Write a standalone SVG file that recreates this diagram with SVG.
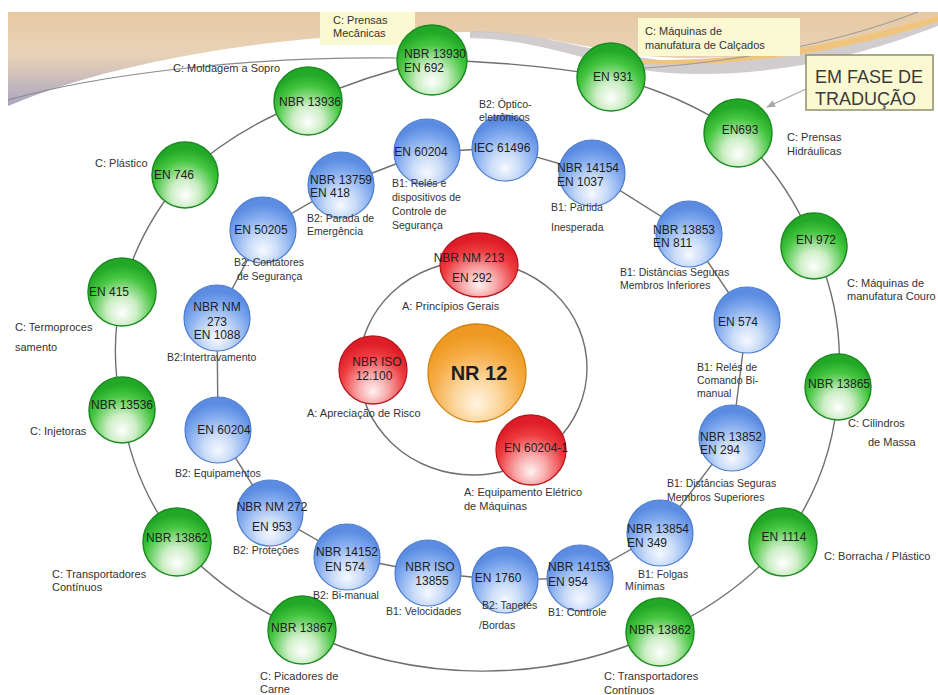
<svg xmlns="http://www.w3.org/2000/svg" width="938" height="695" viewBox="0 0 938 695">
  <style>
    text { font-family: "Liberation Sans", Arial, sans-serif; fill: #2b2b2b; }
    .n { font-size: 12px; fill: #1e1e1e; }
    .lb { font-size: 10.5px; fill: #333; }
    .lc { font-size: 11px; fill: #333; }
    .la { font-size: 11px; fill: #333; }
    .ring { fill: none; stroke: #6f6f6f; stroke-width: 1.4; }
    .link { fill: none; stroke: #707070; stroke-width: 1.4; }
    .g { fill: url(#gGreen); stroke: #1d8a22; stroke-width: 1.5; }
    .b { fill: url(#gBlue); stroke: #4d7ccc; stroke-width: 1.2; }
    .r { fill: url(#gRed); stroke: #b51a1f; stroke-width: 1.3; }
    .o { fill: url(#gOrange); stroke: #cf8412; stroke-width: 1.3; }
    .note { fill: #fbf9d2; }
  </style>
  <defs>
    <radialGradient id="gGreen" cx="50%" cy="72%" r="62%" fx="50%" fy="82%">
      <stop offset="0" stop-color="#ffffff"/>
      <stop offset="0.35" stop-color="#cdeec6"/>
      <stop offset="0.75" stop-color="#45c640"/>
      <stop offset="1" stop-color="#22a827"/>
    </radialGradient>
    <radialGradient id="gBlue" cx="50%" cy="72%" r="62%" fx="50%" fy="82%">
      <stop offset="0" stop-color="#f6f9ff"/>
      <stop offset="0.35" stop-color="#cadcf8"/>
      <stop offset="0.75" stop-color="#80a9ee"/>
      <stop offset="1" stop-color="#5b8ce2"/>
    </radialGradient>
    <radialGradient id="gRed" cx="50%" cy="72%" r="62%" fx="50%" fy="82%">
      <stop offset="0" stop-color="#fff2f2"/>
      <stop offset="0.35" stop-color="#f8aaaa"/>
      <stop offset="0.75" stop-color="#ee3c40"/>
      <stop offset="1" stop-color="#de1d28"/>
    </radialGradient>
    <radialGradient id="gOrange" cx="50%" cy="72%" r="62%" fx="50%" fy="82%">
      <stop offset="0" stop-color="#fff5e4"/>
      <stop offset="0.35" stop-color="#fcd8a0"/>
      <stop offset="0.75" stop-color="#f6ab44"/>
      <stop offset="1" stop-color="#ee9a22"/>
    </radialGradient>
    <linearGradient id="band" x1="0" y1="0" x2="0" y2="1">
      <stop offset="0" stop-color="#e6c9a4"/>
      <stop offset="0.45" stop-color="#e9d2b6"/>
      <stop offset="1" stop-color="#aaa6c2"/>
    </linearGradient>
    <marker id="arr" viewBox="0 0 10 10" refX="9" refY="5" markerWidth="7" markerHeight="7" orient="auto">
      <path d="M0,1 L10,5 L0,9 Z" fill="#a9a9a9"/>
    </marker>
  </defs>

  <!-- page background and title band -->
  <rect width="938" height="695" fill="#ffffff"/>
  <g id="band-decor">
    <path d="M8,12 H938 V18 C870,40 790,56 700,58 C610,60 560,33 470,32 C300,30 120,58 8,106 Z" fill="url(#band)"/>
    <path d="M470,31 C560,32 600,60 700,62 C800,62 880,38 938,18 V26 C880,48 800,74 700,74 C600,74 560,40 470,38 Z" fill="#c9c4c6" opacity="0.85"/>
    <path d="M640,60 C760,62 860,38 938,16 V22 C860,46 760,68 640,64 Z" fill="#efc47e"/>
    <path d="M8,100 C100,74 250,56 400,58" fill="none" stroke="#8a8a8a" stroke-width="1.2"/>
    <path d="M645,68 C730,62 830,46 918,12" fill="none" stroke="#9a9a9a" stroke-width="1"/>
  </g>

  <!-- connectors -->
  <g id="connectors">
    <!-- outer ring (C) -->
    <path class="ring" d="M432,60 Q525,62 611,77"/>
    <path class="ring" d="M611,77 A365,312 0 0 1 738,133"/>
    <path class="ring" d="M738,133 A365,312 0 0 1 814,246"/>
    <path class="ring" d="M814,246 A365,312 0 0 1 838,387"/>
    <path class="ring" d="M838,387 A365,312 0 0 1 783,542"/>
    <path class="ring" d="M783,542 A365,312 0 0 1 660,632"/>
    <path class="ring" d="M660,632 A365,312 0 0 1 302,630"/>
    <path class="ring" d="M302,630 A365,312 0 0 1 177,542"/>
    <path class="ring" d="M177,542 A365,312 0 0 1 122,410"/>
    <path class="ring" d="M122,410 A365,312 0 0 1 122,292"/>
    <path class="ring" d="M122,292 A365,312 0 0 1 185,175"/>
    <path class="ring" d="M185,175 A365,312 0 0 1 308,101"/>
    <path class="ring" d="M308,101 Q365,76 432,60"/>
    <!-- middle ring (B) -->
    <path class="link" d="M505,148 L427,152 L341,185 L263,230 L217,318 L218,430 L270,513 L347,557 L428,573 L505,580 L580,578 L660,533 L732,438 L747,320 L689,234 L592,173 Z"/>
    <!-- inner ring (A) -->
    <ellipse class="ring" cx="473" cy="368" rx="114" ry="107"/>
    <!-- note pointer -->
    <line x1="806" y1="89" x2="767" y2="107" stroke="#a9a9a9" stroke-width="1.3" marker-end="url(#arr)"/>
  </g>

  <!-- notes -->
  <g id="note-prensas-mec">
    <rect class="note" x="320" y="12" width="95" height="33"/>
    <text class="lc" x="333" y="24">C: Prensas</text>
    <text class="lc" x="333" y="37">Mecânicas</text>
  </g>
  <g id="note-calcados">
    <rect class="note" x="638" y="18" width="162" height="38"/>
    <text class="lc" x="645" y="35">C: Máquinas de</text>
    <text class="lc" x="645" y="49">manufatura de Calçados</text>
  </g>
  <g id="note-traducao">
    <rect x="806" y="55" width="127" height="55" fill="#fbf9d2" stroke="#8f8f6a" stroke-width="1.5"/>
    <text x="815" y="83" style="font-size:18px;fill:#3a3a3a">EM FASE DE</text>
    <text x="815" y="105" style="font-size:18px;fill:#3a3a3a">TRADUÇÃO</text>
  </g>

  <!-- outer ring: C standards -->
  <g id="c-nbr13930">
    <circle class="g" cx="432" cy="60" r="35"/>
    <text class="n" x="404" y="58">NBR 13930</text>
    <text class="n" x="404" y="72">EN 692</text>
  </g>
  <g id="c-en931">
    <circle class="g" cx="611" cy="77" r="34"/>
    <text class="n" x="613" y="81" text-anchor="middle">EN 931</text>
  </g>
  <g id="c-en693">
    <circle class="g" cx="738" cy="133" r="34"/>
    <text class="n" x="740" y="134" text-anchor="middle">EN693</text>
    <text class="lc" x="787" y="141">C: Prensas</text>
    <text class="lc" x="787" y="155">Hidráulicas</text>
  </g>
  <g id="c-en972">
    <circle class="g" cx="814" cy="246" r="33"/>
    <text class="n" x="816" y="244" text-anchor="middle">EN 972</text>
    <text class="lc" x="847" y="287">C: Máquinas de</text>
    <text class="lc" x="847" y="300">manufatura Couro</text>
  </g>
  <g id="c-nbr13865">
    <circle class="g" cx="838" cy="387" r="33"/>
    <text class="n" x="839" y="388" text-anchor="middle">NBR 13865</text>
    <text class="lc" x="848" y="427">C: Cilindros</text>
    <text class="lc" x="868" y="446">de Massa</text>
  </g>
  <g id="c-en1114">
    <circle class="g" cx="783" cy="542" r="34"/>
    <text class="n" x="784" y="541" text-anchor="middle">EN 1114</text>
    <text class="lc" x="824" y="560">C: Borracha / Plástico</text>
  </g>
  <g id="c-nbr13862-r">
    <circle class="g" cx="660" cy="632" r="34"/>
    <text class="n" x="660" y="634" text-anchor="middle">NBR 13862</text>
    <text class="lc" x="604" y="680">C: Transportadores</text>
    <text class="lc" x="604" y="694">Contínuos</text>
  </g>
  <g id="c-nbr13867">
    <circle class="g" cx="302" cy="630" r="34"/>
    <text class="n" x="302" y="632" text-anchor="middle">NBR 13867</text>
    <text class="lc" x="260" y="680">C: Picadores de</text>
    <text class="lc" x="260" y="693">Carne</text>
  </g>
  <g id="c-nbr13862-l">
    <circle class="g" cx="177" cy="542" r="34"/>
    <text class="n" x="177" y="542" text-anchor="middle">NBR 13862</text>
    <text class="lc" x="52" y="578">C: Transportadores</text>
    <text class="lc" x="52" y="591">Contínuos</text>
  </g>
  <g id="c-nbr13536">
    <circle class="g" cx="122" cy="410" r="33"/>
    <text class="n" x="122" y="409" text-anchor="middle">NBR 13536</text>
    <text class="lc" x="30" y="435">C: Injetoras</text>
  </g>
  <g id="c-en415">
    <circle class="g" cx="122" cy="292" r="34"/>
    <text class="n" x="109" y="296" text-anchor="middle">EN 415</text>
    <text class="lc" x="15" y="331">C: Termoproces</text>
    <text class="lc" x="15" y="351">samento</text>
  </g>
  <g id="c-en746">
    <circle class="g" cx="185" cy="175" r="33"/>
    <text class="n" x="174" y="179" text-anchor="middle">EN 746</text>
    <text class="lc" x="95" y="167">C: Plástico</text>
  </g>
  <g id="c-nbr13936">
    <circle class="g" cx="308" cy="101" r="34"/>
    <text class="n" x="310" y="106" text-anchor="middle">NBR 13936</text>
    <text class="lc" x="173" y="72">C: Moldagem a Sopro</text>
  </g>

  <!-- middle ring: B standards -->
  <g id="b-iec61496">
    <circle class="b" cx="505" cy="148" r="33"/>
    <text class="n" x="502" y="152" text-anchor="middle">IEC 61496</text>
    <text class="lb" x="479" y="108">B2: Óptico-</text>
    <text class="lb" x="479" y="121">eletrônicos</text>
  </g>
  <g id="b-en60204-top">
    <circle class="b" cx="427" cy="152" r="33"/>
    <text class="n" x="421" y="156" text-anchor="middle">EN 60204</text>
    <text class="lb" x="392" y="187">B1: Relés e</text>
    <text class="lb" x="392" y="201">dispositivos de</text>
    <text class="lb" x="392" y="215">Controle de</text>
    <text class="lb" x="392" y="229">Segurança</text>
  </g>
  <g id="b-nbr13759">
    <circle class="b" cx="341" cy="185" r="33"/>
    <text class="n" x="310" y="184">NBR 13759</text>
    <text class="n" x="310" y="197">EN  418</text>
    <text class="lb" x="307" y="222">B2: Parada de</text>
    <text class="lb" x="307" y="235">Emergência</text>
  </g>
  <g id="b-en50205">
    <circle class="b" cx="263" cy="230" r="33"/>
    <text class="n" x="261" y="234" text-anchor="middle">EN 50205</text>
    <text class="lb" x="234" y="266">B2: Contatores</text>
    <text class="lb" x="237" y="280">de Segurança</text>
  </g>
  <g id="b-nbrnm273">
    <circle class="b" cx="217" cy="318" r="33"/>
    <text class="n" x="217" y="311" text-anchor="middle">NBR NM</text>
    <text class="n" x="217" y="326" text-anchor="middle">273</text>
    <text class="n" x="217" y="339" text-anchor="middle">EN 1088</text>
    <text class="lb" x="167" y="361">B2:Intertravamento</text>
  </g>
  <g id="b-en60204-left">
    <circle class="b" cx="218" cy="430" r="33"/>
    <text class="n" x="224" y="434" text-anchor="middle">EN 60204</text>
    <text class="lb" x="175" y="477">B2: Equipamentos</text>
  </g>
  <g id="b-nbrnm272">
    <circle class="b" cx="270" cy="513" r="33"/>
    <text class="n" x="272" y="511" text-anchor="middle">NBR NM 272</text>
    <text class="n" x="272" y="531" text-anchor="middle">EN 953</text>
    <text class="lb" x="233" y="554">B2: Proteções</text>
  </g>
  <g id="b-nbr14152">
    <circle class="b" cx="347" cy="557" r="33"/>
    <text class="n" x="347" y="556" text-anchor="middle">NBR 14152</text>
    <text class="n" x="345" y="571" text-anchor="middle">EN 574</text>
    <text class="lb" x="313" y="599">B2: Bi-manual</text>
  </g>
  <g id="b-nbriso13855">
    <circle class="b" cx="428" cy="573" r="33"/>
    <text class="n" x="430" y="571" text-anchor="middle">NBR ISO</text>
    <text class="n" x="432" y="585" text-anchor="middle">13855</text>
    <text class="lb" x="386" y="615">B1: Velocidades</text>
  </g>
  <g id="b-en1760">
    <circle class="b" cx="505" cy="580" r="33"/>
    <text class="n" x="498" y="582" text-anchor="middle">EN 1760</text>
    <text class="lb" x="482" y="609">B2: Tapetes</text>
    <text class="lb" x="479" y="629">/Bordas</text>
  </g>
  <g id="b-nbr14153">
    <circle class="b" cx="580" cy="578" r="33"/>
    <text class="n" x="548" y="571">NBR 14153</text>
    <text class="n" x="548" y="586">EN 954</text>
    <text class="lb" x="548" y="616">B1: Controle</text>
  </g>
  <g id="b-nbr13854">
    <circle class="b" cx="660" cy="533" r="33"/>
    <text class="n" x="627" y="533">NBR 13854</text>
    <text class="n" x="627" y="547">EN  349</text>
    <text class="lb" x="638" y="578">B1: Folgas</text>
    <text class="lb" x="625" y="590">Mínimas</text>
  </g>
  <g id="b-nbr13852">
    <circle class="b" cx="732" cy="438" r="33"/>
    <text class="n" x="700" y="441">NBR 13852</text>
    <text class="n" x="700" y="454">EN  294</text>
    <text class="lb" x="667" y="487">B1: Distâncias Seguras</text>
    <text class="lb" x="667" y="501">Membros Superiores</text>
  </g>
  <g id="b-en574">
    <circle class="b" cx="747" cy="320" r="33"/>
    <text class="n" x="718" y="326">EN 574</text>
    <text class="lb" x="697" y="371">B1: Relés de</text>
    <text class="lb" x="697" y="384">Comando Bi-</text>
    <text class="lb" x="697" y="397">manual</text>
  </g>
  <g id="b-nbr13853">
    <circle class="b" cx="689" cy="234" r="33"/>
    <text class="n" x="653" y="234">NBR 13853</text>
    <text class="n" x="653" y="247">EN  811</text>
    <text class="lb" x="620" y="276">B1: Distâncias Seguras</text>
    <text class="lb" x="620" y="289">Membros Inferiores</text>
  </g>
  <g id="b-nbr14154">
    <circle class="b" cx="592" cy="173" r="33"/>
    <text class="n" x="557" y="172">NBR 14154</text>
    <text class="n" x="557" y="186">EN 1037</text>
    <text class="lb" x="551" y="211">B1: Partida</text>
    <text class="lb" x="551" y="231">Inesperada</text>
  </g>

  <!-- inner ring: A standards -->
  <g id="a-nbrnm213">
    <ellipse class="r" cx="479" cy="265" rx="39" ry="32"/>
    <text class="n" x="469" y="262" text-anchor="middle">NBR NM 213</text>
    <text class="n" x="472" y="282" text-anchor="middle">EN 292</text>
    <text class="la" x="402" y="310">A: Princípios Gerais</text>
  </g>
  <g id="a-nbriso12100">
    <circle class="r" cx="373" cy="370" r="34"/>
    <text class="n" x="377" y="366" text-anchor="middle">NBR ISO</text>
    <text class="n" x="374" y="380" text-anchor="middle">12.100</text>
    <text class="la" x="307" y="417">A: Apreciação de Risco</text>
  </g>
  <g id="a-en60204-1">
    <circle class="r" cx="531" cy="450" r="35"/>
    <text class="n" x="536" y="452" text-anchor="middle">EN 60204-1</text>
    <text class="la" x="464" y="496">A: Equipamento Elétrico</text>
    <text class="la" x="464" y="510">de Máquinas</text>
  </g>

  <!-- centre -->
  <g id="nr12">
    <circle class="o" cx="477" cy="373" r="49"/>
    <text x="479" y="380" text-anchor="middle" style="font-size:20px;font-weight:bold;fill:#1e1e1e">NR 12</text>
  </g>
</svg>
